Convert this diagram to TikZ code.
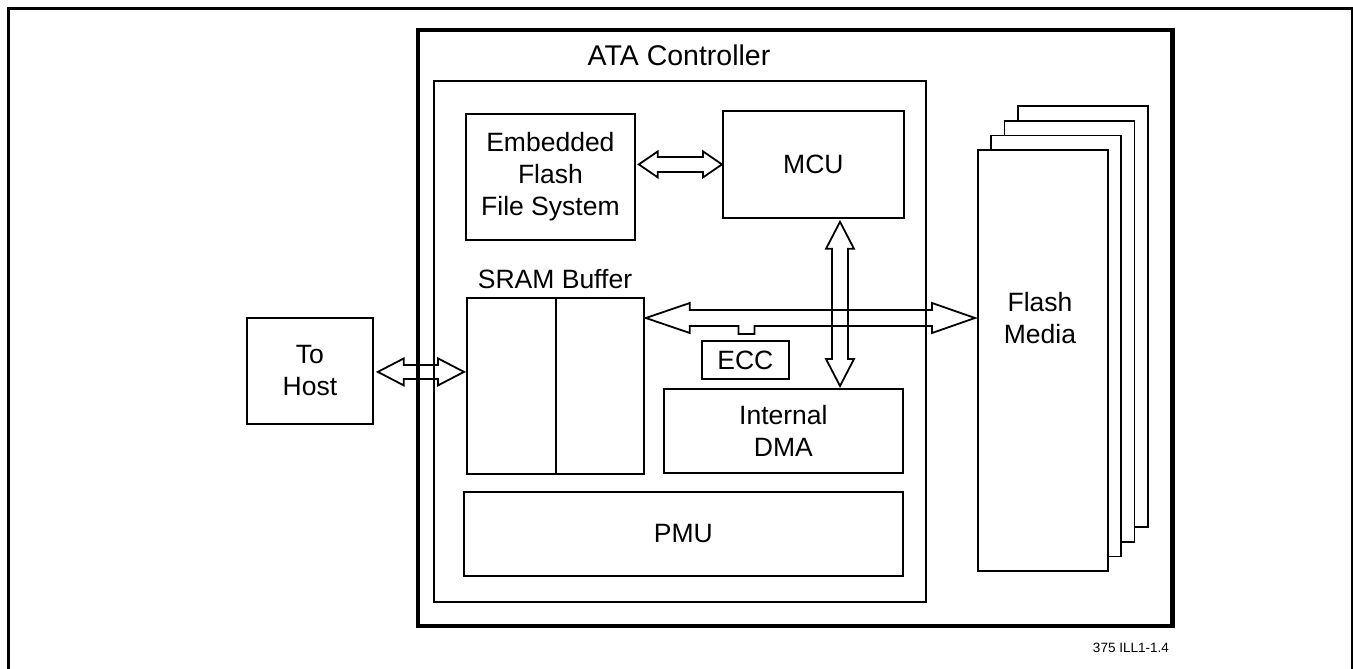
\documentclass[tikz,border=0pt]{standalone}
\usepackage{fontspec}
\setmainfont{Liberation Sans}
\usetikzlibrary{calc}
\tikzset{
  lbl/.style={font=\fontsize{26.5}{32}\selectfont, inner sep=0pt, align=center},
  box/.style={draw, line width=1.8pt, anchor=north west, inner sep=0pt, lbl},
  plainbox/.style={draw, line width=1.8pt, anchor=north west, inner sep=0pt},
  sheet/.style={plainbox, fill=white, minimum width=130, minimum height=421},
  arrowline/.style={draw, line width=1.8pt, line join=miter},
}
\newcommand\hbiarrow[5]{%
  \draw[arrowline] let \p1=(#1), \p2=(#2) in
  (\x1,\y1) -- (\x1+#3,\y1+#4) -- (\x1+#3,\y1+#5) -- (\x2-#3,\y1+#5) --
  (\x2-#3,\y1+#4) -- (\x2,\y1) -- (\x2-#3,\y1-#4) -- (\x2-#3,\y1-#5) --
  (\x1+#3,\y1-#5) -- (\x1+#3,\y1-#4) -- cycle;}
\newcommand\vbiarrow[5]{%
  \draw[arrowline] let \p1=(#1), \p2=(#2) in
  (\x1,\y1) -- (\x1+#4,\y1-#3) -- (\x1+#5,\y1-#3) -- (\x1+#5,\y2+#3) --
  (\x1+#4,\y2+#3) -- (\x1,\y2) -- (\x1-#4,\y2+#3) -- (\x1-#5,\y2+#3) --
  (\x1-#5,\y1-#3) -- (\x1-#4,\y1-#3) -- cycle;}
\begin{document}
\begin{tikzpicture}[x=1pt,y=-1pt]
\useasboundingbox (0,0) rectangle (1353,669);
% page frame
\draw[line width=2.5pt] (8.7,680) -- (8.7,8.7) -- (1351.8,8.7) -- (1351.8,680);

% ATA controller frame
\node[plainbox, line width=4.5pt, minimum width=754.5, minimum height=595.5] (ata) at (415.5,28) {};
\node[lbl, font=\fontsize{28.5}{32}\selectfont, anchor=base] (atatitle) at (679,66) {ATA Controller};
\node[plainbox, minimum width=492, minimum height=521] (core) at (433,80) {};

% blocks
\node[box, minimum width=126, minimum height=106] (host) at (246,317) {To\\Host};
\node[box, minimum width=169, minimum height=126] (effs) at (465,113) {Embedded\\Flash\\File System};
\node[box, minimum width=181, minimum height=107] (mcu) at (722,110) {MCU};
\node[plainbox, minimum width=177, minimum height=176] (sram) at (466,297) {};
\coordinate (sdiv) at (556,0);
\draw[line width=1.8pt] (sram.north -| sdiv) -- (sram.south -| sdiv);
\node[lbl, anchor=base] (sramlbl) at (555,288) {SRAM Buffer};
\node[box, minimum width=87, minimum height=38] (ecc) at (701,340) {ECC};
\node[box, minimum width=239, minimum height=84] (dma) at (663,388) {Internal\\DMA};
\node[box, minimum width=439, minimum height=84] (pmu) at (463,491) {PMU};

% flash media stack
\node[sheet] (sheet3) at (1017,105) {};
\node[sheet] (sheet2) at (1003.5,120) {};
\node[sheet] (sheet1) at (990,134.5) {};
\node[sheet] (flash) at (977,149) {};
\node[lbl] (flashlbl) at (1040,318) {Flash\\Media};

% arrows
\coordinate (eL) at ($(effs.east |- mcu.west)+(3,0)$);
\hbiarrow{eL}{mcu.west}{19pt}{13pt}{7.5pt}

\coordinate (hL) at ($(host.east)+(4,1)$);
\coordinate (hR) at ($(sram.west |- hL)+(-2,0)$);
\hbiarrow{hL}{hR}{26pt}{13.5pt}{7pt}

\coordinate (vx) at (840,0);
\coordinate (vT) at ($(mcu.south -| vx)+(0,3)$);
\coordinate (vB) at ($(dma.north -| vx)+(0,-2)$);
\vbiarrow{vT}{vB}{27pt}{14pt}{8pt}

\coordinate (bL) at ($(sram.north east)+(1,21)$);
\coordinate (bR) at ($(bL -| flash.west)+(-2,0)$);
\draw[arrowline] let \p1=(bL), \p2=(bR), \p3=(ecc.north) in
  (\x1,\y1) -- (\x1+44pt,\y1+15pt) -- (\x1+44pt,\y1+8pt) -- (\x2-43pt,\y1+8pt) --
  (\x2-43pt,\y1+15pt) -- (\x2,\y1) -- (\x2-43pt,\y1-15pt) -- (\x2-43pt,\y1-8pt) --
  (\x3+9pt,\y1-8pt) -- (\x3+9pt,\y3+6pt) -- (\x3-7pt,\y3+6pt) -- (\x3-7pt,\y1-8pt) --
  (\x1+44pt,\y1-8pt) -- (\x1+44pt,\y1-15pt) -- cycle;

% figure id
\node[font=\fontsize{13.5}{15}\selectfont, inner sep=0pt, anchor=base east] (figid) at (1169,652) {375 ILL1-1.4};
\end{tikzpicture}
\end{document}
